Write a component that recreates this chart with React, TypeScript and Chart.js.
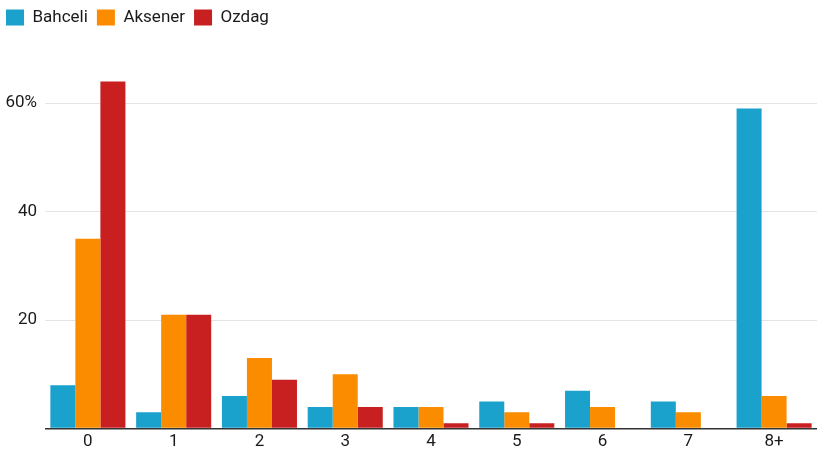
import React, { useEffect, useRef } from "react";
import { Chart, registerables } from "chart.js";

Chart.register(...registerables);

const categories = ["0", "1", "2", "3", "4", "5", "6", "7", "8+"];
const bahceli = [8, 3, 6, 4, 4, 5, 7, 5, 59];
const aksener = [35, 21, 13, 10, 4, 3, 4, 3, 6];
const ozdag = [64, 21, 9, 4, 1, 1, 0, 0, 1];
const yTicks = [0, 20, 40, 60];

const legendHeight = {
  id: "legendHeight",
  beforeInit(chart: any) {
    const fit = chart.legend.fit;
    chart.legend.fit = function () {
      fit.bind(chart.legend)();
      this.height = 76;
    };
  },
};

export default function App() {
  const ref = useRef<HTMLCanvasElement>(null);
  useEffect(() => {
    document.body.style.margin = "0";
    const font = { family: "Roboto", size: 17 };
    const chart = new Chart(ref.current!, {
      type: "bar",
      data: {
        labels: categories,
        datasets: [
          { label: "Bahceli", data: bahceli, backgroundColor: "#1aa1cc" },
          { label: "Aksener", data: aksener, backgroundColor: "#fb8c00" },
          { label: "Ozdag", data: ozdag, backgroundColor: "#c81f20" },
        ],
      },
      plugins: [legendHeight],
      options: {
        animation: false,
        responsive: false,
        layout: { padding: { left: -3, right: 0, top: 0, bottom: 0 } },
        datasets: { bar: { barPercentage: 1, categoryPercentage: 0.875 } },
        plugins: {
          tooltip: { enabled: false },
          legend: {
            position: "top",
            align: "start",
            labels: {
              boxWidth: 18,
              boxHeight: 16,
              padding: 9,
              color: "#1a1a1a",
              font,
            },
          },
        },
        scales: {
          x: {
            grid: { display: false, drawTicks: false },
            border: { display: false },
            ticks: { color: "#1a1a1a", font, padding: 3 },
          },
          y: {
            min: 0,
            max: 65,
            afterBuildTicks: (scale: any) => {
              scale.ticks = yTicks.map((v) => ({ value: v }));
            },
            afterFit: (scale: any) => {
              scale.width = 48;
            },
            border: { display: false },
            grid: {
              drawTicks: false,
              color: (ctx: any) => (ctx.tick && ctx.tick.value === 0 ? "#333" : "#e4e4e4"),
              lineWidth: (ctx: any) => (ctx.tick && ctx.tick.value === 0 ? 1.5 : 1),
            },
            ticks: {
              color: "#1a1a1a",
              font,
              padding: 8,
              callback: (v: any) => (v === 0 ? "" : v === 60 ? "60%" : String(v)),
            },
          },
        },
      },
    });
    return () => chart.destroy();
  }, []);
  return (
    <div style={{ width: 817, height: 455 }}>
      <canvas ref={ref} width={817} height={455} />
    </div>
  );
}
